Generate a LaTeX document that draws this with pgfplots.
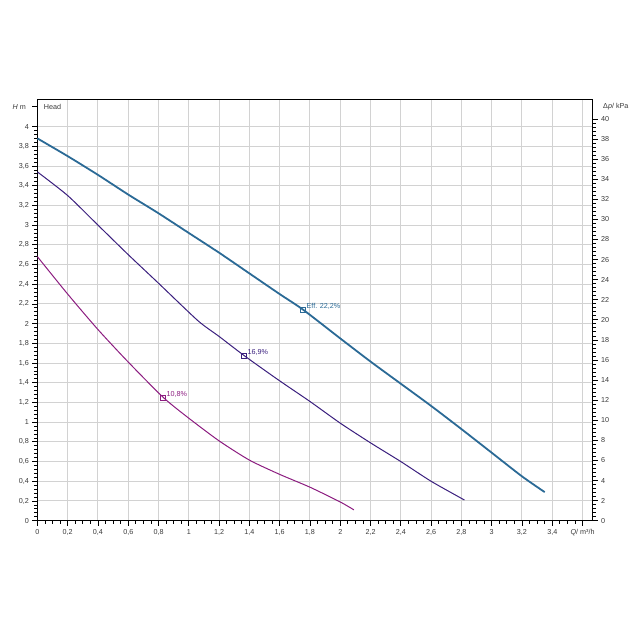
\documentclass[border=0pt]{standalone}
\usepackage{fontspec}
\setmainfont{Liberation Sans}
\usepackage{pgfplots}
\pgfplotsset{compat=1.18}
\definecolor{cblue}{HTML}{2B6A96}
\definecolor{cind}{HTML}{3A1F7E}
\definecolor{cmag}{HTML}{8C1D80}
\definecolor{cgrid}{HTML}{D2D2D2}
\definecolor{ctxt}{HTML}{3A3A3A}
\begin{document}
\begin{tikzpicture}[x=1pt,y=1pt]
\path[use as bounding box] (0,0) rectangle (640,640);
\begin{axis}[
  at={(37.4pt,119.3pt)}, anchor=south west,
  width=555.3pt, height=420.7pt, scale only axis,
  xmin=0, xmax=3.667, ymin=0, ymax=4.27,
  xtick={0,0.2,...,3.61}, ytick={0,0.2,...,4.01},
  extra y ticks={4.2}, extra y tick style={grid=none},
  extra y tick labels={},
  xticklabels={0,{0,2},{0,4},{0,6},{0,8},1,{1,2},{1,4},{1,6},{1,8},2,{2,2},{2,4},{2,6},{2,8},3,{3,2},{3,4},{\textit{Q}/ m³/h}},
  minor x tick num=3, minor y tick num=4,
  xtick pos=bottom, ytick pos=left, tick align=outside,
  major tick length=5pt, minor tick length=3pt,
  every tick/.style={black, line width=0.8pt},
  grid=major, major grid style={cgrid, line width=1pt},
  axis line style={black, line width=1pt},
  /pgf/number format/use comma, /pgf/number format/assume math mode=true,
  ticklabel style={font=\fontsize{7.2}{8}\selectfont, text=ctxt},
  clip=false,
]
\addplot[cblue, line width=1.8pt, smooth, tension=0.4] coordinates {
(0,3.88) (0.2,3.70) (0.4,3.51) (0.6,3.31) (0.8,3.12) (1.0,2.92) (1.2,2.72) (1.4,2.51) (1.6,2.30) (1.756,2.14) (2.0,1.85) (2.2,1.615) (2.4,1.39) (2.6,1.165) (2.8,0.93) (3.0,0.69) (3.2,0.45) (3.35,0.29)};
\addplot[cind, line width=1.0pt, smooth, tension=0.4] coordinates {
(0,3.54) (0.2,3.30) (0.4,3.00) (0.6,2.70) (0.8,2.41) (1.06,2.03) (1.2,1.87) (1.366,1.675) (1.59,1.43) (1.8,1.21) (2.0,0.99) (2.2,0.79) (2.4,0.60) (2.6,0.40) (2.82,0.21)};
\addplot[cmag, line width=1.0pt, smooth, tension=0.4] coordinates {
(0,2.68) (0.2,2.30) (0.4,1.94) (0.6,1.61) (0.832,1.25) (1.0,1.04) (1.2,0.81) (1.4,0.615) (1.6,0.47) (1.8,0.34) (2.0,0.19) (2.09,0.11)};
\addplot[cblue, only marks, mark=square, mark size=2.5pt, mark options={fill=white, line width=0.8pt}] coordinates {(1.756,2.14)};
\addplot[cind, only marks, mark=square, mark size=2.5pt, mark options={fill=white, line width=0.8pt}] coordinates {(1.366,1.675)};
\addplot[cmag, only marks, mark=square, mark size=2.5pt, mark options={fill=white, line width=0.8pt}] coordinates {(0.832,1.25)};
\node[anchor=south west, text=cblue, font=\fontsize{7.2}{8}\selectfont, inner sep=1pt] at (axis cs:1.77,2.13) {Eff. 22,2\%};
\node[anchor=south west, text=cind, font=\fontsize{7.2}{8}\selectfont, inner sep=1pt] at (axis cs:1.38,1.665) {16,9\%};
\node[anchor=south west, text=cmag, font=\fontsize{7.2}{8}\selectfont, inner sep=1pt] at (axis cs:0.846,1.24) {10,8\%};
\node[anchor=west, font=\fontsize{7.2}{8}\selectfont, text=ctxt] at (axis cs:0.02,4.2) {Head};
\node[anchor=east, font=\fontsize{7.2}{8}\selectfont, text=ctxt] at (axis cs:0,4.2) [xshift=-8pt] {\textit{H} m};
\node[anchor=west, font=\fontsize{7.2}{8}\selectfont, text=ctxt] at (axis cs:3.667,4.2) [xshift=7pt] {Δ\textit{p}/ kPa};
\end{axis}
\begin{axis}[
  at={(37.4pt,119.3pt)}, anchor=south west,
  width=555.3pt, height=420.7pt, scale only axis,
  xmin=0, xmax=3.667, ymin=0, ymax=41.89,
  hide x axis, axis y line*=right,
  ytick={0,2,...,40}, minor y tick num=4,
  tick align=outside,
  major tick length=5pt, minor tick length=3pt,
  every tick/.style={black, line width=0.8pt},
  axis line style={black, line width=1pt},
  /pgf/number format/assume math mode=true,
  ticklabel style={font=\fontsize{7.2}{8}\selectfont, text=ctxt},
]
\end{axis}
\end{tikzpicture}
\end{document}
